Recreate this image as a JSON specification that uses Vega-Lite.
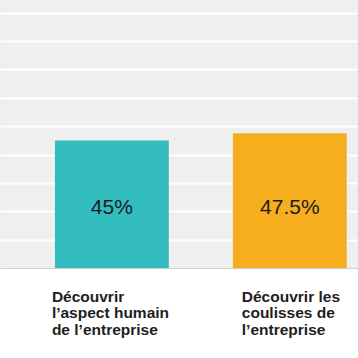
{
  "$schema": "https://vega.github.io/schema/vega-lite/v6.json",
  "width": 358,
  "height": 268,
  "autosize": {"type": "none"},
  "padding": {"top": 0, "left": 0, "right": 0, "bottom": 90},
  "background": "#ffffff",
  "config": {
    "view": {"fill": "#efefef", "stroke": null},
    "font": "Liberation Sans"
  },
  "data": {
    "values": [
      {"label": "Découvrir|l’aspect humain|de l’entreprise", "value": 45, "text": "45%"},
      {"label": "Découvrir les|coulisses de|l’entreprise", "value": 47.5, "text": "47.5%"}
    ]
  },
  "encoding": {
    "x": {
      "field": "label",
      "type": "nominal",
      "sort": null,
      "scale": {"paddingInner": 0.36, "paddingOuter": 0.186, "align": 0.83},
      "axis": {
        "title": null,
        "labelAngle": 0,
        "ticks": false,
        "grid": false,
        "domain": true,
        "domainColor": "#cfcfcf",
        "domainWidth": 1.2,
        "labelExpr": "split(datum.label, '|')",
        "labelAlign": "left",
        "labelBaseline": "top",
        "labelFont": "Liberation Sans",
        "labelFontSize": 15.5,
        "labelFontWeight": "bold",
        "labelColor": "#1e1e1e",
        "labelLineHeight": 16.5,
        "labelPadding": 21,
        "labelLimit": 300,
        "labelOffset": {"condition": {"test": "indexof(datum.value, 'humain') >= 0", "value": -60}, "value": -48}
      }
    }
  },
  "layer": [
    {
      "mark": {"type": "bar"},
      "encoding": {
        "y": {
          "field": "value",
          "type": "quantitative",
          "scale": {"domain": [0, 94.5], "nice": false, "zero": true},
          "axis": {
            "title": null,
            "labels": false,
            "ticks": false,
            "domain": false,
            "grid": true,
            "gridColor": "#ffffff",
            "gridWidth": 2,
            "tickCount": 10,
            "values": [10, 20, 30, 40, 50, 60, 70, 80, 90]
          }
        },
        "color": {
          "field": "label",
          "type": "nominal",
          "sort": null,
          "scale": {"range": ["#33bdbe", "#f6ae1e"]},
          "legend": null
        }
      }
    },
    {
      "mark": {"type": "text", "font": "Liberation Sans", "fontSize": 21, "color": "#1a1a1a", "baseline": "middle", "align": "center"},
      "encoding": {
        "y": {"datum": 21.3, "type": "quantitative"},
        "text": {"field": "text", "type": "nominal"}
      }
    }
  ]
}
